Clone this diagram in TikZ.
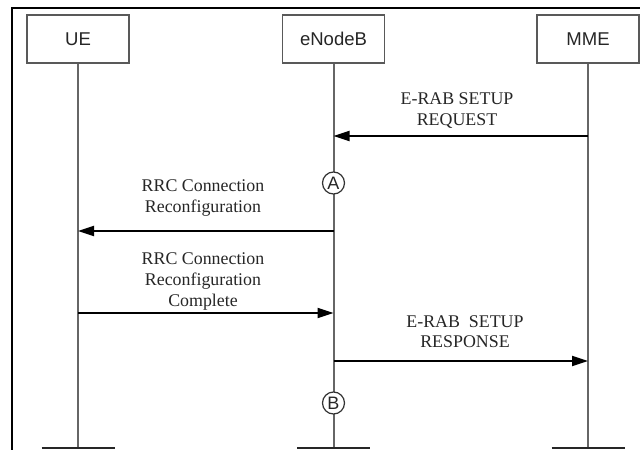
\documentclass[tikz,border=0pt]{standalone}
\usepackage{fontspec}
\setmainfont{Liberation Serif}
\newfontfamily\entityfont{Liberation Sans}
\usetikzlibrary{arrows.meta}
\begin{document}
\begin{tikzpicture}[x=0.75pt,y=-0.75pt,
  frameline/.style={draw=black, line width=0.9pt},
  entity/.style={draw=black!65, line width=1pt, fill=white,
    minimum width=76.5pt, minimum height=36pt, inner sep=0pt,
    text=black!85, font=\entityfont\fontsize{13.9}{16}\selectfont},
  lifeline/.style={draw=black!60, line width=1.5pt},
  endbar/.style={draw=black!85, line width=1.8pt},
  msg/.style={draw=black, line width=1.5pt, -{Triangle[length=12pt,width=7.5pt]}},
  msglabel/.style={align=center, inner sep=0pt, text=black!85,
    font=\fontsize{13.4}{15.4}\selectfont},
  marker/.style={circle, draw=black!80, line width=0.9pt, fill=white,
    minimum size=16.5pt, inner sep=0pt, text=black!85,
    font=\entityfont\fontsize{13.5}{14}\selectfont}]

\useasboundingbox (0,0) rectangle (640,450);

% outer frame
\draw[frameline] (12,450) -- (12,8) -- (640,8);

% entities
\node[entity] (ue)  at (78,39)    {UE};
\node[entity] (enb) at (333.5,39) {eNodeB};
\node[entity] (mme) at (588,39)   {MME};

% lifeline ends
\coordinate (ueEnd)  at (78,448);
\coordinate (enbEnd) at (333.5,448);
\coordinate (mmeEnd) at (588,448);

\draw[lifeline] (ue.south)  -- (ueEnd);
\draw[lifeline] (enb.south) -- (enbEnd);
\draw[lifeline] (mme.south) -- (mmeEnd);

\draw[endbar] (ueEnd)  ++(-36.5,0) -- ++(73,0);
\draw[endbar] (enbEnd) ++(-36.5,0) -- ++(73,0);
\draw[endbar] (mmeEnd) ++(-36.5,0) -- ++(73,0);

% message end points on the lifelines
\coordinate (m1a) at (588,136);   \coordinate (m1b) at (333.5,136);
\coordinate (m2a) at (333.5,231); \coordinate (m2b) at (78,231);
\coordinate (m3a) at (78,313);    \coordinate (m3b) at (333.5,313);
\coordinate (m4a) at (333.5,361); \coordinate (m4b) at (588,361);

% messages
\draw[msg] (m1a) -- (m1b);
\node[msglabel] (l1) at (457,110.5) {E-RAB SETUP\\REQUEST};

\draw[msg] (m2a) -- (m2b);
\node[msglabel] (l2) at (203,198) {RRC Connection\\Reconfiguration};

\draw[msg] (m3a) -- (m3b);
\node[msglabel] (l3) at (203,281.5) {RRC Connection\\Reconfiguration\\Complete};

\draw[msg] (m4a) -- (m4b);
\node[msglabel] (l4) at (465,331.5) {E-RAB\ \ SETUP\\RESPONSE};

% procedure markers on the eNodeB lifeline
\node[marker] (ptA) at (333.5,183) {A};
\node[marker] (ptB) at (333.5,403) {B};

\end{tikzpicture}
\end{document}
